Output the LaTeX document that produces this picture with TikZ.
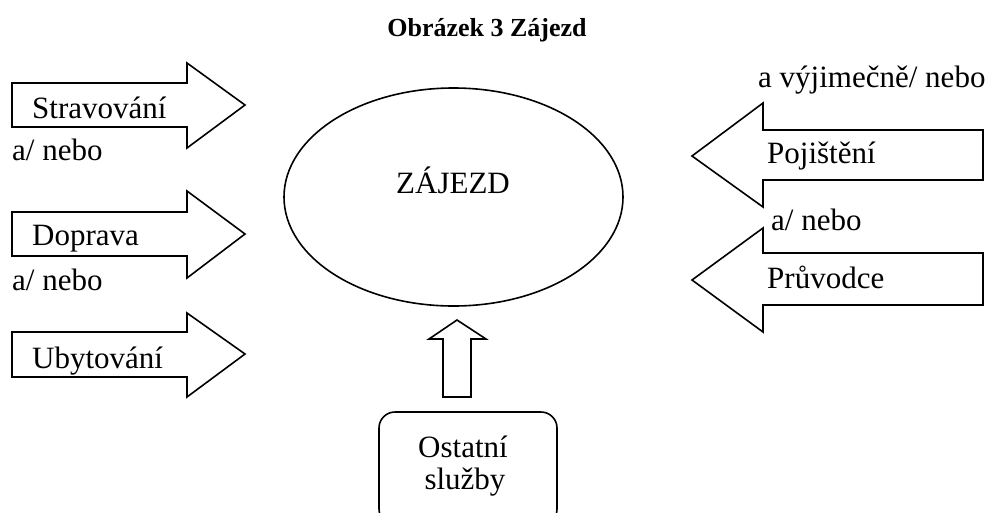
\documentclass[tikz,border=0pt]{standalone}
\usepackage{fontspec}
\setmainfont{Liberation Serif}
\begin{document}
\begin{tikzpicture}[x=1pt,y=-1pt,
  shp/.style={draw=black,line width=1.6pt,line join=miter},
  lbl/.style={inner sep=0pt,anchor=base west,font=\fontsize{31}{36}\selectfont},
  ttl/.style={inner sep=0pt,anchor=base,font=\fontsize{26}{30}\selectfont\bfseries}]
\useasboundingbox (0,0) rectangle (995,512);
\clip (0,0) rectangle (995,512);
% title
\node[ttl] (title) at (487,36) {Obrázek 3 Zájezd};
% left arrows
\draw[shp] (12,83) -- (187,83) -- (187,63) -- (245,105) -- (187,148) -- (187,127) -- (12,127) -- cycle;
\draw[shp] (12,212) -- (187,212) -- (187,191) -- (245,234) -- (187,278) -- (187,256) -- (12,256) -- cycle;
\draw[shp] (12,332) -- (187,332) -- (187,313) -- (245,354) -- (187,397) -- (187,377) -- (12,377) -- cycle;
\node[lbl] (strav) at (32,118) {Stravování};
\node[lbl] (or1) at (12,160) {a/ nebo};
\node[lbl] (dopr) at (32,245) {Doprava};
\node[lbl] (or2) at (12,290) {a/ nebo};
\node[lbl] (ubyt) at (32,368) {Ubytování};
% ellipse
\draw[shp] (453.5,197) ellipse [x radius=169.5, y radius=109];
\node[lbl] (zaj) at (396,193) {ZÁJEZD};
% right arrows
\draw[shp] (983,130) -- (763,130) -- (763,103) -- (692,156) -- (763,207) -- (763,180) -- (983,180) -- cycle;
\draw[shp] (983,253) -- (763,253) -- (763,228) -- (692,280) -- (763,332) -- (763,305) -- (983,305) -- cycle;
\node[lbl] (exc) at (758,87) {a výjimečně/ nebo};
\node[lbl] (poj) at (767,163) {Pojištění};
\node[lbl] (or3) at (771,230) {a/ nebo};
\node[lbl] (pruv) at (767,288) {Průvodce};
% up arrow
\draw[shp] (443,397) -- (443,339) -- (429,339) -- (457,320) -- (486,339) -- (471,339) -- (471,397) -- cycle;
% other services box
\draw[shp, rounded corners=16pt] (379,412) rectangle (557,525);
\node[inner sep=0pt,anchor=base,font=\fontsize{31}{36}\selectfont] (ost) at (463,457) {Ostatní};
\node[inner sep=0pt,anchor=base,font=\fontsize{31}{36}\selectfont] (slu) at (465,489) {služby};
\end{tikzpicture}
\end{document}
